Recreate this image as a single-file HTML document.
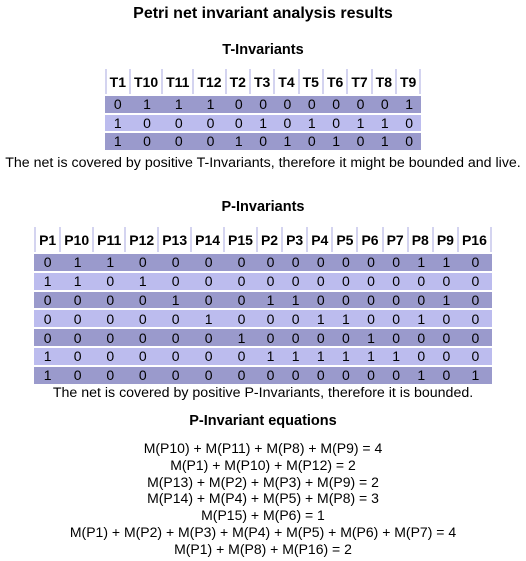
<!DOCTYPE html>
<html><head><meta charset="utf-8"><style>
body{margin:0;width:526px;height:561px;background:#fff;font-family:"Liberation Sans",Arial,sans-serif;color:#000;position:relative;overflow:hidden}
.abs{position:absolute;left:0;width:526px;text-align:center}
h1{font-size:16px;font-weight:bold;margin:0}
h2{font-size:14.5px;font-weight:bold;margin:0}
table{border-collapse:separate;border-spacing:0 2px;margin:0 auto;font-size:14px}
th{background:#fff;border-left:2px solid #d4d4f0;border-right:2px solid #d4d4f0;padding:4px 3px 4px;font-weight:bold;height:17px}
th+th{border-left:0}
td{text-align:center;padding:0 3px;height:16.5px;line-height:16px}
#pt td{height:16.8px}
tr.d td{background:#9a9acc}
tr.l td{background:#bcbcee}
p{margin:0;font-size:14.2px}
.eq{font-size:14px;line-height:16.8px}
</style></head><body>
<div class="abs" style="top:5px"><h1>Petri net invariant analysis results</h1></div>
<div class="abs" style="top:42px"><h2>T-Invariants</h2></div>
<div class="abs" style="top:67px">
<table id="tt"></table></div>
<div class="abs" style="top:155px"><p>The net is covered by positive T-Invariants, therefore it might be bounded and live.</p></div>
<div class="abs" style="top:199px"><h2>P-Invariants</h2></div>
<div class="abs" style="top:225px">
<table id="pt"></table></div>
<div class="abs" style="top:385px"><p>The net is covered by positive P-Invariants, therefore it is bounded.</p></div>
<div class="abs" style="top:413px"><h2>P-Invariant equations</h2></div>
<div class="abs eq" style="top:440px">
M(P10) + M(P11) + M(P8) + M(P9) = 4<br>
M(P1) + M(P10) + M(P12) = 2<br>
M(P13) + M(P2) + M(P3) + M(P9) = 2<br>
M(P14) + M(P4) + M(P5) + M(P8) = 3<br>
M(P15) + M(P6) = 1<br>
M(P1) + M(P2) + M(P3) + M(P4) + M(P5) + M(P6) + M(P7) = 4<br>
M(P1) + M(P8) + M(P16) = 2
</div>
<script>
const tCols=["T1","T10","T11","T12","T2","T3","T4","T5","T6","T7","T8","T9"];
const tRows=[[0,1,1,1,0,0,0,0,0,0,0,1],[1,0,0,0,0,1,0,1,0,1,1,0],[1,0,0,0,1,0,1,0,1,0,1,0]];
const pCols=["P1","P10","P11","P12","P13","P14","P15","P2","P3","P4","P5","P6","P7","P8","P9","P16"];
const pRows=[[0,1,1,0,0,0,0,0,0,0,0,0,0,1,1,0],[1,1,0,1,0,0,0,0,0,0,0,0,0,0,0,0],[0,0,0,0,1,0,0,1,1,0,0,0,0,0,1,0],[0,0,0,0,0,1,0,0,0,1,1,0,0,1,0,0],[0,0,0,0,0,0,1,0,0,0,0,1,0,0,0,0],[1,0,0,0,0,0,0,1,1,1,1,1,1,0,0,0],[1,0,0,0,0,0,0,0,0,0,0,0,0,1,0,1]];
function build(id,cols,rows){
 const t=document.getElementById(id);
 const hr=document.createElement('tr');
 
 
 cols.forEach(c=>{const th=document.createElement('th');th.textContent=c;
 
 
 hr.appendChild(th);});
 t.appendChild(hr);
 rows.forEach((r,i)=>{const tr=document.createElement('tr');tr.className=i%2?'l':'d';
 
 
 r.forEach(v=>{const td=document.createElement('td');td.textContent=v;
 
 
 tr.appendChild(td);});t.appendChild(tr);});
}
build('tt',tCols,tRows);build('pt',pCols,pRows);
</script>
</body></html>
